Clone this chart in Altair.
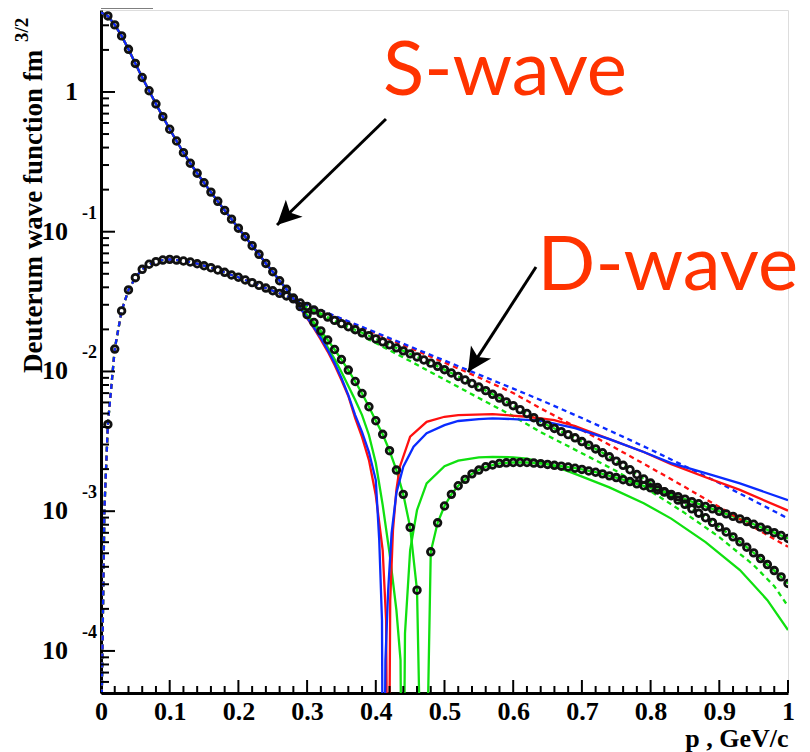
import altair as alt
import pandas as pd

# ---------------- data ----------------
P_GRID = [0.01, 0.02, 0.03, 0.04, 0.05, 0.06, 0.07, 0.08, 0.09, 0.10,
          0.11, 0.12, 0.13, 0.14, 0.15, 0.16, 0.17, 0.18, 0.19, 0.20,
          0.21, 0.22, 0.23, 0.24, 0.25, 0.26, 0.27, 0.28, 0.29, 0.30,
          0.31, 0.32, 0.33, 0.34, 0.35, 0.36, 0.37, 0.38, 0.39, 0.40,
          0.41, 0.42, 0.43, 0.44, 0.45, 0.46, 0.47, 0.48, 0.49, 0.50,
          0.51, 0.52, 0.53, 0.54, 0.55, 0.56, 0.57, 0.58, 0.59, 0.60,
          0.61, 0.62, 0.63, 0.64, 0.65, 0.66, 0.67, 0.68, 0.69, 0.70,
          0.71, 0.72, 0.73, 0.74, 0.75, 0.76, 0.77, 0.78, 0.79, 0.80,
          0.81, 0.82, 0.83, 0.84, 0.85, 0.86, 0.87, 0.88, 0.89, 0.90,
          0.91, 0.92, 0.93, 0.94, 0.95, 0.96, 0.97, 0.98, 0.99, 1.00]

# S-wave points (open circles); 0.47 is the node (off scale)
S_CIRC = [3.50, 3.02, 2.52, 2.02, 1.60, 1.27, 1.02, 0.820, 0.666, 0.541,
          0.446, 0.368, 0.309, 0.262, 0.224, 0.192, 0.165, 0.142, 0.123, 0.106,
          0.092, 0.0794, 0.0689, 0.0593, 0.0517, 0.0446, 0.0387, 0.0335, 0.0291, 0.0255,
          0.0224, 0.0195, 0.0168, 0.01435, 0.01217, 0.01023, 0.00847, 0.00695, 0.00559, 0.00444,
          0.00355, 0.00271, 0.00197, 0.00132, 0.000766, 0.000272, 1e-6, 0.000512, 0.000826, 0.00109,
          0.00132, 0.00152, 0.00169, 0.00185, 0.00197, 0.00208, 0.00214, 0.00220, 0.00222, 0.00223,
          0.00223, 0.00223, 0.00221, 0.00219, 0.00216, 0.00213, 0.00210, 0.00207, 0.00203, 0.00199,
          0.00194, 0.00190, 0.00185, 0.00179, 0.00174, 0.00168, 0.00163, 0.00157, 0.00152, 0.00147,
          0.00142, 0.00137, 0.00132, 0.00127, 0.00122, 0.00117, 0.00113, 0.00108, 0.00104, 0.000997,
          0.000957, 0.000918, 0.000881, 0.000843, 0.000806, 0.000769, 0.000735, 0.000702, 0.000670, 0.000638]
S_AT_ZERO = 3.70

# D-wave points (open circles)
D_CIRC = [0.00418, 0.01446, 0.0271, 0.0383, 0.0469, 0.0538, 0.0585, 0.0610, 0.0627, 0.0634,
          0.0627, 0.0617, 0.0607, 0.0590, 0.0571, 0.0553, 0.0532, 0.0512, 0.0490, 0.0472,
          0.0451, 0.0432, 0.0413, 0.0395, 0.0378, 0.0362, 0.0347, 0.0331, 0.0309, 0.0292,
          0.0275, 0.0260, 0.0245, 0.0232, 0.0220, 0.0209, 0.0199, 0.0189, 0.0180, 0.0171,
          0.0163, 0.0155, 0.01475, 0.01404, 0.01336, 0.01270, 0.01207, 0.01147, 0.01088, 0.01030,
          0.00975, 0.00921, 0.00869, 0.00820, 0.00773, 0.00729, 0.00686, 0.00645, 0.00606, 0.00569,
          0.00533, 0.00500, 0.00467, 0.00434, 0.00412, 0.00391, 0.00371, 0.00353, 0.00335, 0.00315,
          0.00297, 0.00279, 0.00262, 0.00245, 0.00228, 0.00213, 0.00198, 0.00183, 0.00170, 0.00159,
          0.00148, 0.00138, 0.00129, 0.00120, 0.00112, 0.00104, 0.000968, 0.000898, 0.000832, 0.000769,
          0.000710, 0.000655, 0.000604, 0.000552, 0.000503, 0.000458, 0.000415, 0.000376, 0.000339, 0.000304]
D_START_P = [0.001, 0.005]
D_START_V = [4.2e-5, 0.00105]

# model S-wave curves beyond p = 0.27 (identical to the points below that)
BLUE_S_P = [0.28, 0.29, 0.30, 0.31, 0.32, 0.33, 0.34, 0.35, 0.36, 0.37, 0.38, 0.39, 0.40,
            0.405, 0.409, 0.411, 0.414, 0.418, 0.423, 0.43, 0.44, 0.455, 0.474, 0.50, 0.52,
            0.55, 0.57, 0.60, 0.64, 0.69, 0.74, 0.79, 0.83, 0.88, 0.93, 1.00]
BLUE_S_V = [0.0332, 0.0284, 0.0243, 0.0206, 0.0173, 0.01423, 0.01148, 0.00897, 0.00678, 0.00487,
            0.00368, 0.00265, 0.00167, 0.000621, 0.000166, 1e-6, 8.59e-5, 0.000272, 0.000697,
            0.00135, 0.00208, 0.00289, 0.00361, 0.00413, 0.00442, 0.00456, 0.00462, 0.00456,
            0.00445, 0.00393, 0.00328, 0.00265, 0.00221, 0.00187, 0.00158, 0.00120]
RED_S_P = [0.28, 0.29, 0.30, 0.31, 0.32, 0.33, 0.34, 0.35, 0.36, 0.37, 0.38, 0.39, 0.40, 0.41,
           0.415, 0.418, 0.421, 0.425, 0.43, 0.435, 0.45, 0.474, 0.50, 0.52, 0.57, 0.62, 0.66,
           0.69, 0.74, 0.79, 0.83, 0.88, 0.93, 1.00]
RED_S_V = [0.0332, 0.0284, 0.0241, 0.0203, 0.0169, 0.01387, 0.01111, 0.00868, 0.00667, 0.00464,
           0.00339, 0.00232, 0.00130, 0.000527, 0.000166, 1e-6, 0.000231, 0.000732, 0.00142,
           0.00208, 0.00341, 0.00436, 0.00474, 0.00487, 0.00495, 0.00474, 0.00449, 0.00406,
           0.00328, 0.00265, 0.00217, 0.00175, 0.00142, 0.00101]
GREEN_S_P = [0.28, 0.29, 0.30, 0.31, 0.32, 0.33, 0.34, 0.35, 0.36, 0.37, 0.38, 0.39, 0.40, 0.41,
             0.42, 0.43, 0.436, 0.439, 0.4425, 0.45, 0.46, 0.474, 0.50, 0.52, 0.55, 0.57, 0.60,
             0.62, 0.64, 0.66, 0.69, 0.74, 0.79, 0.83, 0.88, 0.93, 0.97, 1.00]
GREEN_S_V = [0.0332, 0.0287, 0.0251, 0.0217, 0.0185, 0.01496, 0.01227, 0.00990, 0.00786, 0.00624,
             0.00487, 0.00351, 0.00221, 0.00111, 0.000501, 0.000196, 8.59e-5, 1e-6, 0.000134,
             0.000527, 0.00102, 0.00158, 0.00210, 0.00230, 0.00243, 0.00245, 0.00243, 0.00238,
             0.00225, 0.00210, 0.00185, 0.00148, 0.00114, 0.000885, 0.000601, 0.000379,
             0.000231, 0.000141]

# model D-wave curves beyond p = 0.27
BLUE_D_P = [0.28, 0.30, 0.35, 0.40, 0.45, 0.50, 0.55, 0.60, 0.64, 0.70, 0.75, 0.80, 0.85, 0.90, 0.95, 1.00]
BLUE_D_V = [0.0331, 0.0301, 0.0239, 0.0190, 0.01508, 0.01197, 0.00950, 0.00754, 0.00624, 0.00464,
            0.00359, 0.00276, 0.00210, 0.00159, 0.00119, 0.000888]
RED_D_P = [0.28, 0.30, 0.35, 0.40, 0.45, 0.50, 0.55, 0.60, 0.64, 0.70, 0.75, 0.80, 0.85, 0.90, 0.95, 1.00]
RED_D_V = [0.0331, 0.0300, 0.0237, 0.0187, 0.01471, 0.01158, 0.00905, 0.00701, 0.00544, 0.00381,
           0.00281, 0.00205, 0.00149, 0.00107, 0.000769, 0.000556]
GREEN_D_P = [0.28, 0.30, 0.35, 0.40, 0.45, 0.50, 0.55, 0.60, 0.64, 0.70, 0.75, 0.80, 0.85, 0.90,
             0.95, 0.98, 1.00]
GREEN_D_V = [0.0324, 0.0287, 0.0213, 0.01597, 0.01187, 0.00875, 0.00645, 0.00479, 0.00368, 0.00260,
             0.00194, 0.00139, 0.000969, 0.000653, 0.000411, 0.000291, 0.000209]

X_LABELS = [0.0, 0.1, 0.2, 0.3, 0.4, 0.5, 0.6, 0.7, 0.8, 0.9, 1.0]
Y_DECADES = [1.0, 0.1, 0.01, 0.001, 0.0001]
Y_EXPONENTS = ["", "-1", "-2", "-3", "-4"]
Y_DOMAIN = [5e-5, 3.86]

# ---------------- layout ----------------
W, H = 687, 683
BLUE, RED, GREEN = "#0a2bff", "#ff1010", "#10e010"
SERIF = "Liberation Serif"

X_ENC = alt.X("p:Q", scale=alt.Scale(domain=[0, 1], nice=False, zero=False),
              axis=alt.Axis(values=X_LABELS, ticks=False, tickSize=0, grid=False,
                            domainColor="black", domainWidth=3,
                            labelExpr="datum.value == 0 ? '0' : (datum.value == 1 ? '1' : format(datum.value, '.1f'))",
                            labelFont=SERIF, labelFontWeight="bold", labelFontSize=26,
                            labelColor="black", labelPadding=26, labelBaseline="alphabetic",
                            labelFlush=False, labelOverlap=False,
                            title="p , GeV/c", titleFont=SERIF, titleFontWeight="bold",
                            titleFontSize=26, titleColor="black", titleAnchor="end",
                            titleAlign="right", titleBaseline="alphabetic", titleX=W, titleY=53))
Y_ENC = alt.Y("v:Q", scale=alt.Scale(type="log", domain=Y_DOMAIN, nice=False),
              axis=alt.Axis(labels=False, ticks=False, tickSize=0, grid=False,
                            domainColor="black", domainWidth=3, title=None))


def line(ps, vs, color, dashed=False):
    kw = dict(color=color, strokeWidth=2.3, clip=True)
    if dashed:
        kw["strokeDash"] = [5, 4]
    return alt.Chart(pd.DataFrame({"p": ps, "v": vs})).mark_line(**kw).encode(x=X_ENC, y=Y_ENC)


common_p = [0.0] + P_GRID[:27]
common_s = [S_AT_ZERO] + S_CIRC[:27]
d_common_p = D_START_P + P_GRID[:27]
d_common_v = D_START_V + D_CIRC[:27]

layers = []
# lines through the points
layers.append(line([0.0] + P_GRID, [S_AT_ZERO] + S_CIRC, GREEN))
layers.append(line(D_START_P + P_GRID, D_START_V + D_CIRC, GREEN, dashed=True))
# D-wave models (dashed)
layers.append(line(d_common_p + GREEN_D_P, d_common_v + GREEN_D_V, GREEN, dashed=True))
layers.append(line(d_common_p + RED_D_P, d_common_v + RED_D_V, RED, dashed=True))
layers.append(line(d_common_p + BLUE_D_P, d_common_v + BLUE_D_V, BLUE, dashed=True))
# S-wave models (solid)
layers.append(line(common_p + GREEN_S_P, common_s + GREEN_S_V, GREEN))
layers.append(line(common_p + RED_S_P, common_s + RED_S_V, RED))
layers.append(line(common_p + BLUE_S_P, common_s + BLUE_S_V, BLUE))

# points
pts = pd.DataFrame({"p": P_GRID + P_GRID, "v": S_CIRC + D_CIRC})
layers.append(alt.Chart(pts).mark_point(shape="circle", filled=False, size=44, strokeWidth=2.8,
                                        color="#111111", opacity=1, clip=True)
              .encode(x=X_ENC, y=Y_ENC))

# inward ticks
X_MAJOR = [round(0.1 * i, 1) for i in range(1, 11)]
X_MINOR = [round(0.02 * i, 2) for i in range(1, 50) if i % 5 != 0]
Y_MINOR = [k * 10.0 ** e for e in range(-5, 1) for k in range(2, 10)
           if Y_DOMAIN[0] <= k * 10.0 ** e <= Y_DOMAIN[1]]
layers.append(alt.Chart(pd.DataFrame({"p": X_MAJOR})).mark_rule(color="black", strokeWidth=2)
              .encode(x=X_ENC, y=alt.value(H), y2=alt.value(H - 13)))
layers.append(alt.Chart(pd.DataFrame({"p": X_MINOR})).mark_rule(color="black", strokeWidth=2)
              .encode(x=X_ENC, y=alt.value(H), y2=alt.value(H - 7)))
layers.append(alt.Chart(pd.DataFrame({"v": Y_DECADES})).mark_rule(color="black", strokeWidth=2)
              .encode(y=Y_ENC, x=alt.value(0), x2=alt.value(14)))
layers.append(alt.Chart(pd.DataFrame({"v": Y_MINOR})).mark_rule(color="black", strokeWidth=2)
              .encode(y=Y_ENC, x=alt.value(0), x2=alt.value(8)))
layers.append(alt.Chart(pd.DataFrame({"a": [0]})).mark_rule(color="black", strokeWidth=3)
              .encode(x=alt.value(0), x2=alt.value(52), y=alt.value(-3)))

# y tick labels: "1", "10" with exponent
ylab = pd.DataFrame({"v": Y_DECADES, "e": Y_EXPONENTS})
lab_style = dict(font=SERIF, fontWeight="bold", color="black", baseline="middle", align="right")
layers.append(alt.Chart(ylab).transform_filter("datum.v == 1").mark_text(fontSize=26, **lab_style)
              .encode(x=alt.value(-23), y=Y_ENC, text=alt.value("1")))
layers.append(alt.Chart(ylab).transform_filter("datum.v < 1").mark_text(fontSize=26, **lab_style)
              .encode(x=alt.value(-33), y=Y_ENC, text=alt.value("10")))
layers.append(alt.Chart(ylab).transform_filter("datum.v < 1").mark_text(fontSize=18, dy=-18, **lab_style)
              .encode(x=alt.value(-4), y=Y_ENC, text="e:N"))

# y axis title
layers.append(alt.Chart(pd.DataFrame({"t": ["Deuterum wave function fm"]}))
              .mark_text(font=SERIF, fontWeight="bold", fontSize=27, color="black", angle=270,
                         align="left", baseline="alphabetic")
              .encode(x=alt.value(-59), y=alt.value(363), text="t:N"))
layers.append(alt.Chart(pd.DataFrame({"t": ["3/2"]}))
              .mark_text(font=SERIF, fontWeight="bold", fontSize=19, color="black", angle=270,
                         align="left", baseline="alphabetic")
              .encode(x=alt.value(-73), y=alt.value(32), text="t:N"))

# annotations
ANN_FONT = "Lato"
ann = pd.DataFrame({"p": [0.4105, 0.6355], "v": [0.952, 0.0383], "t": ["S-wave", "D-wave"]})
layers.append(alt.Chart(ann).mark_text(font=ANN_FONT, fontSize=76, color="#ff3300",
                                       align="left", baseline="alphabetic")
              .encode(x=X_ENC, y=Y_ENC, text="t:N"))
arrows = pd.DataFrame({"p": [0.4148, 0.6332], "v": [0.641, 0.0559],
                       "p2": [0.2562, 0.5342], "v2": [0.1117, 0.0099]})
layers.append(alt.Chart(arrows).mark_rule(color="black", strokeWidth=3)
              .encode(x=X_ENC, y=Y_ENC, x2="p2:Q", y2="v2:Q"))
HEAD = "M0,0 L-0.5,1 L0,0.75 L0.5,1 Z"
layers.append(alt.Chart(arrows.iloc[[0]]).mark_point(shape=HEAD, filled=True, size=2304, angle=225.8,
                                                      color="black", opacity=1)
              .encode(x=alt.X("p2:Q", scale=alt.Scale(domain=[0, 1], nice=False, zero=False)),
                      y=alt.Y("v2:Q", scale=alt.Scale(type="log", domain=Y_DOMAIN, nice=False))))
layers.append(alt.Chart(arrows.iloc[[1]]).mark_point(shape=HEAD, filled=True, size=2304, angle=212.9,
                                                      color="black", opacity=1)
              .encode(x=alt.X("p2:Q", scale=alt.Scale(domain=[0, 1], nice=False, zero=False)),
                      y=alt.Y("v2:Q", scale=alt.Scale(type="log", domain=Y_DOMAIN, nice=False))))

chart = alt.layer(*layers).properties(
    width=W, height=H, autosize="none",
    padding={"left": 93, "top": 2, "right": 14, "bottom": 59},
).configure_view(stroke="#808080", strokeWidth=1).configure(background="white")

chart.save("out.html", embed_options={"renderer": "svg", "actions": False})
